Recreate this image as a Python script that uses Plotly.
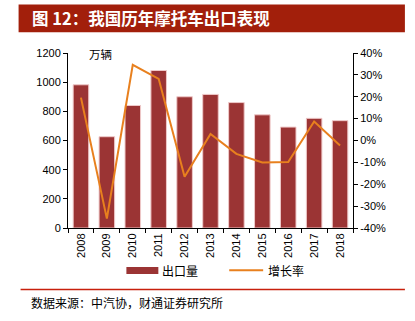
import plotly.graph_objects as go

years = ["2008", "2009", "2010", "2011", "2012", "2013", "2014", "2015", "2016", "2017", "2018"]
exports = [982, 626, 840, 1080, 900, 916, 860, 776, 692, 752, 736]          # 万辆
growth = [19.6, -35.7, 34.6, 28.2, -16.6, 3.0, -6.1, -10.0, -9.8, 8.7, -2.3]  # %

left_ticks = [0, 200, 400, 600, 800, 1000, 1200]
right_ticks = [-40, -30, -20, -10, 0, 10, 20, 30, 40]
right_labels = [f"{v}%" for v in right_ticks]

BAR = "#9B3434"
LINE = "#E8801E"
RED = "#A21F0B"
CJK = "Noto Sans CJK SC"
LAT = "Liberation Sans, Arial"

W, H = 415, 321
L, R, T, B = 67.5, 62, 52.7, 92.7
pw, ph = W - L - R, H - T - B

def px(x):
    return (x - L) / pw

def py(y):
    return (H - B - y) / ph

fig = go.Figure()
fig.add_trace(go.Bar(x=years, y=exports, marker=dict(color=BAR, line=dict(color="#EFC9C9", width=1)),
                     width=0.6, name="出口量", showlegend=False))
fig.add_trace(go.Scatter(x=years, y=growth, yaxis="y2", mode="lines",
                         line=dict(color=LINE, width=2), name="增长率", showlegend=False))

axis_common = dict(showgrid=False, zeroline=False, showline=True, linecolor="black", linewidth=1,
                   ticks="outside", ticklen=4, tickcolor="black", tickwidth=1,
                   tickfont=dict(family=LAT, size=11, color="black"))

fig.update_layout(
    width=W, height=H, margin=dict(l=L, r=R, t=T, b=B, autoexpand=False),
    paper_bgcolor="white", plot_bgcolor="white",
    bargap=0.4,
    xaxis=dict(**axis_common, type="category", tickangle=-90, tickson="boundaries",
               range=[-0.5, 10.5]),
    yaxis=dict(**axis_common, range=[0, 1200], tickvals=left_ticks),
    yaxis2=dict(**axis_common, overlaying="y", side="right", range=[-40, 40],
                tickvals=right_ticks, ticktext=right_labels),
    showlegend=False,
)

shapes = [
    dict(type="rect", xref="paper", yref="paper", x0=px(18), x1=px(405), y0=py(32), y1=py(4),
         fillcolor=RED, line=dict(width=0), layer="below"),
    dict(type="line", xref="paper", yref="paper", x0=px(20), x1=px(405), y0=py(290), y1=py(290),
         line=dict(color="#C8200C", width=1.5)),
    # legend swatches
    dict(type="rect", xref="paper", yref="paper", x0=px(126), x1=px(158), y0=py(274.5), y1=py(267.5),
         fillcolor=BAR, line=dict(width=0)),
    dict(type="line", xref="paper", yref="paper", x0=px(229), x1=px(263), y0=py(270.7), y1=py(270.7),
         line=dict(color=LINE, width=2)),
]

annotations = [
    dict(text="<b>图 12：我国历年摩托车出口表现</b>", xref="paper", yref="paper", x=px(29), y=py(18),
         xanchor="left", yanchor="middle", showarrow=False,
         font=dict(family=CJK, size=16.5, color="white")),
    dict(text="数据来源：中汽协，财通证券研究所", xref="paper", yref="paper", x=px(28), y=py(303),
         xanchor="left", yanchor="middle", showarrow=False,
         font=dict(family=CJK, size=12, color="black")),
    dict(text="万辆", xref="paper", yref="paper", x=px(87), y=py(53.5),
         xanchor="left", yanchor="middle", showarrow=False,
         font=dict(family=CJK, size=11.5, color="black")),
    dict(text="出口量", xref="paper", yref="paper", x=px(160), y=py(271),
         xanchor="left", yanchor="middle", showarrow=False,
         font=dict(family=CJK, size=12, color="black")),
    dict(text="增长率", xref="paper", yref="paper", x=px(266), y=py(271),
         xanchor="left", yanchor="middle", showarrow=False,
         font=dict(family=CJK, size=12, color="black")),
]

fig.update_layout(shapes=shapes, annotations=annotations)
fig.write_html("out.html")
